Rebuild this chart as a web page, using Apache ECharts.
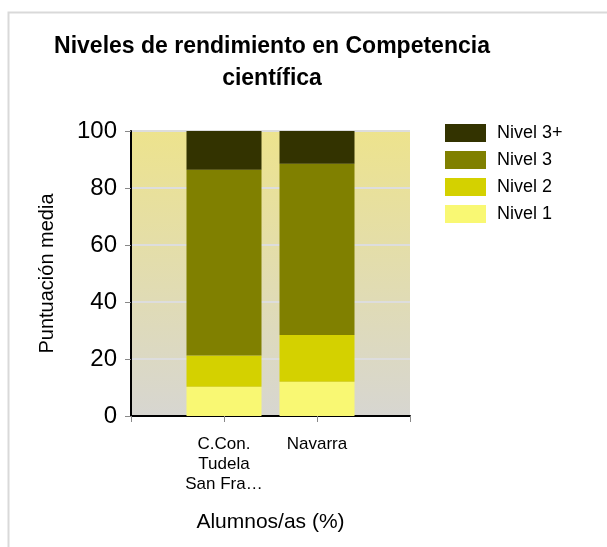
<!DOCTYPE html>
<html>
<head>
<meta charset="utf-8">
<script src="https://cdn.jsdelivr.net/npm/echarts@6/dist/echarts.min.js"></script>
<style>html,body{margin:0;padding:0;background:#fff;}#c{width:607px;height:547px;}</style>
</head>
<body>
<div id="c"></div>
<script>
const categories = ['C.Con.\nTudela\nSan Fra…', 'Navarra'];
const nivel1 = [10.3, 12.0];
const nivel2 = [10.9, 16.4];
const nivel3 = [65.2, 60.1];
const nivel3plus = [13.6, 11.5];
const yTicks = [0, 20, 40, 60, 80, 100];

const seriesDefs = [
  {name: 'Nivel 1', data: nivel1, color: '#f9f873'},
  {name: 'Nivel 2', data: nivel2, color: '#d4d100'},
  {name: 'Nivel 3', data: nivel3, color: '#808000'},
  {name: 'Nivel 3+', data: nivel3plus, color: '#333300'}
];

const axisCats = [''].concat(categories).concat(['']);
const pad = d => [null].concat(d).concat([null]);

const chart = echarts.init(document.getElementById('c'));
chart.setOption({
  animation: false,
  title: {
    text: 'Niveles de rendimiento en Competencia\ncientífica',
    left: 267, top: 26, textAlign: 'center',
    textStyle: {fontFamily: 'Liberation Sans, Arial', fontSize: 23, fontWeight: 'bold', lineHeight: 32, color: '#000'}
  },
  graphic: [{
    type: 'rect', shape: {x: 8.5, y: 12.5, width: 700, height: 700},
    style: {fill: 'none', stroke: '#d9d9d9', lineWidth: 2}, silent: true, z: -10
  }],
  legend: {
    orient: 'vertical', left: 440, top: 119,
    itemWidth: 41, itemHeight: 18, itemGap: 9, icon: 'rect',
    data: ['Nivel 3+', 'Nivel 3', 'Nivel 2', 'Nivel 1'],
    textStyle: {fontFamily: 'Liberation Sans, Arial', fontSize: 18, color: '#000', padding: [0, 0, 0, 6]}
  },
  grid: {
    left: 131, top: 131, right: 197, bottom: 131, show: true, borderWidth: 0,
    backgroundColor: new echarts.graphic.LinearGradient(0, 0, 0, 1, [
      {offset: 0, color: '#ede38d'}, {offset: 1, color: '#d7d6d1'}
    ])
  },
  xAxis: {
    type: 'category', data: axisCats, boundaryGap: false,
    name: 'Alumnos/as (%)', nameLocation: 'middle', nameGap: 96,
    nameTextStyle: {fontFamily: 'Liberation Sans, Arial', fontSize: 21, color: '#000'},
    axisLine: {lineStyle: {color: '#000', width: 2}},
    axisTick: {show: true, length: 6, lineStyle: {color: '#888'}},
    axisLabel: {interval: 0, fontFamily: 'Liberation Sans, Arial', fontSize: 17, lineHeight: 20, color: '#000', margin: 18},
    splitLine: {show: false}
  },
  yAxis: {
    type: 'value', min: 0, max: 100, interval: 20,
    name: 'Puntuación media', nameLocation: 'middle', nameGap: 74, nameRotate: 90,
    nameTextStyle: {fontFamily: 'Liberation Sans, Arial', fontSize: 20, color: '#000'},
    axisLine: {show: true, lineStyle: {color: '#000', width: 2}},
    axisTick: {show: true, length: 6, lineStyle: {color: '#888'}},
    axisLabel: {fontFamily: 'Liberation Sans, Arial', fontSize: 24, color: '#000', margin: 14,
      formatter: v => yTicks.includes(v) ? String(v) : ''},
    splitLine: {lineStyle: {color: '#dddddd', width: 2}}
  },
  series: seriesDefs.map(s => ({
    name: s.name, type: 'bar', stack: 'total', data: pad(s.data), barWidth: 75,
    itemStyle: {color: s.color}
  }))
});
</script>
</body>
</html>
